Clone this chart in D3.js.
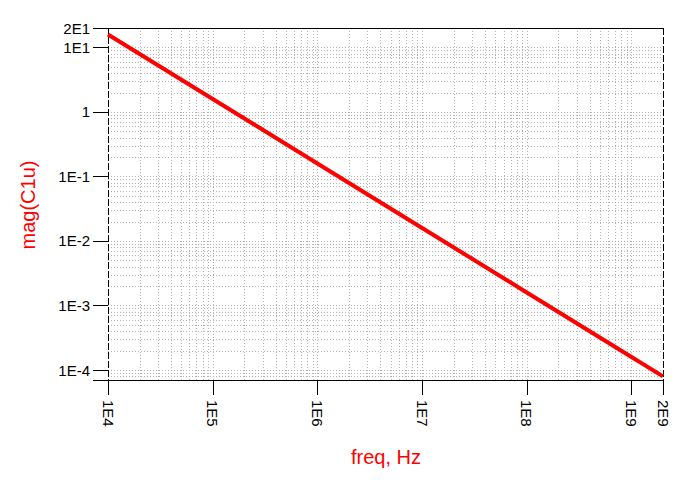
<!DOCTYPE html>
<html>
<head>
<meta charset="utf-8">
<script src="https://cdn.jsdelivr.net/npm/d3@7"></script>
<style>
body { margin: 0; background: #fff; }
text { font-family: "Liberation Sans", Arial, sans-serif; }
</style>
</head>
<body>
<script>
// data
const freq = [1e4, 1e5, 1e6, 1e7, 1e8, 1e9, 2e9];
const mag = [15.9, 1.59, 0.159, 0.0159, 0.00159, 0.000159, 0.0000796];
const xTicks = [1e4, 1e5, 1e6, 1e7, 1e8, 1e9, 2e9];
const xTickLabels = ['1E4', '1E5', '1E6', '1E7', '1E8', '1E9', '2E9'];
const yTicks = [20, 10, 1, 1e-1, 1e-2, 1e-3, 1e-4];
const yTickLabels = ['2E1', '1E1', '1', '1E-1', '1E-2', '1E-3', '1E-4'];

const svg = d3.select('body').append('svg').attr('width', 698).attr('height', 480);

const pLeft = 108, pRight = 663, pTop = 28, pBottom = 380;

const x = d3.scaleLog().domain([1e4, 2e9]).range([pLeft, pRight]);
const y = d3.scaleLog().domain([7e-5, 20]).range([pBottom, pTop]);

// minor grid
const xGrid = [];
for (let e = 4; e <= 9; e++) for (let m = 1; m <= 9; m++) { const v = m * Math.pow(10, e); if (v > 1e4 && v < 2e9) xGrid.push(v); }
const yGrid = [];
for (let e = -5; e <= 1; e++) for (let m = 1; m <= 9; m++) { const v = m * Math.pow(10, e); if (v > 7e-5 && v < 20) yGrid.push(v); }

const grid = svg.append('g').style('stroke', '#b4b4b4').style('stroke-dasharray', '1,2');
grid.selectAll('.gx').data(xGrid).enter().append('line')
  .attr('x1', d => Math.round(x(d)) + 0.5).attr('x2', d => Math.round(x(d)) + 0.5)
  .attr('y1', pTop).attr('y2', pBottom);
grid.selectAll('.gy').data(yGrid).enter().append('line')
  .attr('x1', pLeft).attr('x2', pRight)
  .attr('y1', d => Math.round(y(d)) + 0.5).attr('y2', d => Math.round(y(d)) + 0.5);

// frame
svg.append('line').attr('x1', 93).attr('x2', pRight).attr('y1', pTop + 0.5).attr('y2', pTop + 0.5).style('stroke', '#000');
svg.append('line').attr('x1', 93).attr('x2', pRight).attr('y1', pBottom + 0.5).attr('y2', pBottom + 0.5).style('stroke', '#000');
svg.append('line').attr('x1', pLeft + 0.5).attr('x2', pLeft + 0.5).attr('y1', pTop).attr('y2', pBottom)
  .style('stroke', '#000').style('stroke-dasharray', '7,2');
svg.append('line').attr('x1', pRight + 0.5).attr('x2', pRight + 0.5).attr('y1', pTop).attr('y2', pBottom)
  .style('stroke', '#000').style('stroke-dasharray', '7,2');

// x axis ticks + labels
const xt = svg.append('g');
xt.selectAll('line').data(xTicks).enter().append('line')
  .attr('x1', d => Math.round(x(d)) + 0.5).attr('x2', d => Math.round(x(d)) + 0.5)
  .attr('y1', pBottom).attr('y2', pBottom + 15).style('stroke', '#000');
xt.selectAll('text').data(xTicks).enter().append('text')
  .attr('transform', d => 'translate(' + x(d) + ',' + (pBottom + 20) + ') rotate(90)')
  .attr('dominant-baseline', 'central')
  .style('font-size', '15px')
  .text((d, i) => xTickLabels[i]);

// y axis ticks + labels
const yt = svg.append('g');
yt.selectAll('line').data(yTicks).enter().append('line')
  .attr('x1', 93).attr('x2', pLeft)
  .attr('y1', d => Math.round(y(d)) + 0.5).attr('y2', d => Math.round(y(d)) + 0.5).style('stroke', '#000');
yt.selectAll('text').data(yTicks).enter().append('text')
  .attr('x', 90).attr('y', d => y(d))
  .attr('text-anchor', 'end').attr('dominant-baseline', 'central')
  .style('font-size', '15px')
  .text((d, i) => yTickLabels[i]);

// curve
const line = d3.line().x((d, i) => x(freq[i])).y(d => y(d));
svg.append('path').datum(mag).attr('d', line)
  .style('fill', 'none').style('stroke', '#f00').style('stroke-width', 4);

// axis titles
svg.append('text').attr('x', 386).attr('y', 464).attr('text-anchor', 'middle')
  .style('fill', '#f00').style('font-size', '20px').text('freq, Hz');
svg.append('text').attr('transform', 'translate(35,205) rotate(-90)').attr('text-anchor', 'middle')
  .style('fill', '#f00').style('font-size', '20px').text('mag(C1u)');
</script>
</body>
</html>
